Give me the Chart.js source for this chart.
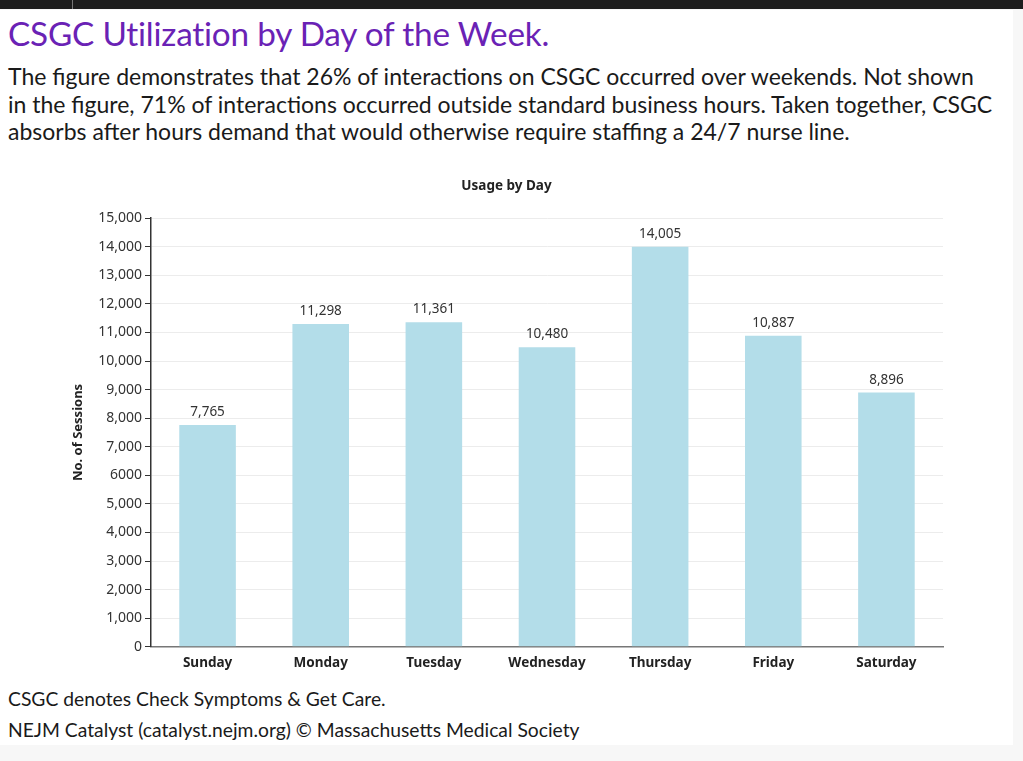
<!DOCTYPE html>
<html>
<head>
<meta charset="utf-8">
<script src="https://cdn.jsdelivr.net/npm/chart.js@4.4.1/dist/chart.umd.min.js"></script>
<style>
  html, body { margin: 0; padding: 0; background: #f7f7f7; }
  #topbar { position: absolute; left: 0; top: 0; width: 1023px; height: 9px; background: #1d1d1d; }
  #topbar .tick { position: absolute; left: 72px; top: 0; width: 1px; height: 9px; background: #777; }
  #page { position: absolute; left: 0; top: 10px; width: 1013px; height: 735px; background: #fff; }
  h1 { position: absolute; left: 8px; top: 3px; margin: 0; font-family: Lato, sans-serif; font-weight: 400;
       font-size: 33.3px; color: #6a22b5; letter-spacing: -0.2px; }
  #desc { position: absolute; left: 8px; top: 53px; margin: 0; font-family: Lato, sans-serif; font-size: 23px;
          line-height: 27.5px; color: #1a1a1a; width: 1010px; white-space: nowrap; }
  #chartBox { position: absolute; left: 0; top: 152px; width: 1013px; height: 509px; }
  .foot { position: absolute; left: 8px; margin: 0; font-family: Lato, sans-serif; font-size: 19.3px; color: #1a1a1a; white-space: nowrap; }
</style>
</head>
<body>
<div id="topbar"><div class="tick"></div></div>
<div id="page">
  <h1>CSGC Utilization by Day of the Week.</h1>
  <p id="desc">The figure demonstrates that 26% of interactions on CSGC occurred over weekends. Not shown<br>in the figure, 71% of interactions occurred outside standard business hours. Taken together, CSGC<br>absorbs after hours demand that would otherwise require staffing a 24/7 nurse line.</p>
  <div id="chartBox"><canvas id="chart"></canvas></div>
  <p class="foot" style="top:677px">CSGC denotes Check Symptoms &amp; Get Care.</p>
  <p class="foot" style="top:708px">NEJM Catalyst (catalyst.nejm.org) © Massachusetts Medical Society</p>
</div>
<script>
const days = ['Sunday', 'Monday', 'Tuesday', 'Wednesday', 'Thursday', 'Friday', 'Saturday'];
const sessions = [7765, 11298, 11361, 10480, 14005, 10887, 8896];
const yTickLabels = ['0', '1,000', '2,000', '3,000', '4,000', '5,000', '6000', '7,000',
                     '8,000', '9,000', '10,000', '11,000', '12,000', '13,000', '14,000', '15,000'];

const FONT = '"Noto Sans", sans-serif';

// value labels above each bar
const barLabels = {
    id: 'barLabels',
    afterDatasetsDraw(chart) {
        const ctx = chart.ctx;
        const meta = chart.getDatasetMeta(0);
        ctx.save();
        ctx.font = '13.5px ' + FONT;
        ctx.fillStyle = '#333';
        ctx.textAlign = 'center';
        ctx.textBaseline = 'bottom';
        meta.data.forEach((bar, i) => {
            ctx.fillText(sessions[i].toLocaleString('en-US'), bar.x, bar.y - 6);
        });
        ctx.restore();
    }
};

new Chart(document.getElementById('chart'), {
    type: 'bar',
    data: {
        labels: days,
        datasets: [{
            data: sessions,
            backgroundColor: '#b3dde9',
            barPercentage: 0.5,
            categoryPercentage: 1
        }]
    },
    options: {
        responsive: true,
        maintainAspectRatio: false,
        animation: false,
        layout: { padding: { left: 70, right: 70, top: 0, bottom: 0 } },
        plugins: {
            legend: { display: false },
            tooltip: { enabled: false },
            title: {
                display: true,
                text: 'Usage by Day',
                color: '#222',
                font: { family: FONT, size: 13.5, weight: 'bold' },
                padding: { top: 16, bottom: 24 }
            }
        },
        scales: {
            x: {
                grid: { display: false },
                border: { color: '#777', width: 1.5 },
                ticks: {
                    color: '#222',
                    padding: 0,
                    font: { family: FONT, size: 13.5, weight: 'bold' }
                }
            },
            y: {
                min: 0,
                max: 15000,
                afterFit(scale) { scale.width = 81; },
                grid: { color: '#ececec', tickColor: '#333', tickLength: 6 },
                border: { color: '#333', width: 1.5 },
                ticks: {
                    stepSize: 1000,
                    color: '#333',
                    padding: 3,
                    font: { family: FONT, size: 14 },
                    callback: (v, i) => yTickLabels[i]
                },
                title: {
                    display: true,
                    text: 'No. of Sessions',
                    color: '#222',
                    font: { family: FONT, size: 13, weight: 'bold' },
                    padding: { top: 0, bottom: 0 }
                }
            }
        }
    },
    plugins: [barLabels]
});
</script>
</body>
</html>
